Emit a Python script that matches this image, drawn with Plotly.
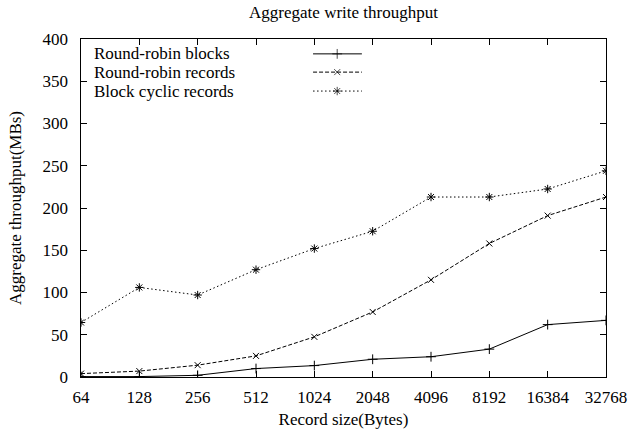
import math
import plotly.graph_objects as go

record_sizes = [64, 128, 256, 512, 1024, 2048, 4096, 8192, 16384, 32768]
tick_labels = [str(v) for v in record_sizes]
rr_blocks = [0.5, 0.5, 2, 10, 13.5, 21, 24, 33, 62, 67]
rr_records = [4, 7, 14, 25, 47.5, 77, 115, 158, 191, 213]
block_cyclic = [64.5, 106, 97, 127, 152, 172.5, 213, 213, 222.5, 244]
series_names = ["Round-robin blocks", "Round-robin records", "Block cyclic records"]

FONT = "Liberation Serif"
FS = 17
styles = [("solid", "cross-thin-open", 7), ("4px,2px", "x-thin-open", 6), ("1.5px,2.5px", "asterisk-open", 7)]
series = [rr_blocks, rr_records, block_cyclic]

fig = go.Figure()
for name, ys, (dash, sym, sz) in zip(series_names, series, styles):
    fig.add_trace(go.Scatter(
        x=record_sizes, y=ys, mode="lines+markers", name=name,
        line=dict(color="black", width=1, dash=dash),
        marker=dict(symbol=sym, size=sz, color="black", line=dict(width=1, color="black")),
        showlegend=False,
    ))

# gnuplot-style key: text on the left, sample on the right (hidden overlay axes 0..1)
legend_rows = [0.956, 0.902, 0.846]
for name, row, (dash, sym, sz) in zip(series_names, legend_rows, styles):
    fig.add_trace(go.Scatter(
        x=[0.442, 0.488, 0.535], y=[row, row, row], xaxis="x2", yaxis="y2",
        mode="lines+markers", showlegend=False, hoverinfo="skip",
        line=dict(color="black", width=1, dash=dash),
        marker=dict(symbol=sym, size=[0, sz, 0], color="black", line=dict(width=1, color="black")),
    ))
    fig.add_annotation(x=0.021, y=row, xref="x2", yref="y2", text=name,
                       showarrow=False, xanchor="left", yanchor="middle",
                       font=dict(family=FONT, size=FS, color="black"))

fig.update_layout(
    width=640, height=432,
    margin=dict(l=81, r=34, t=39, b=55, autoexpand=False),
    paper_bgcolor="white", plot_bgcolor="white",
    font=dict(family=FONT, size=FS, color="black"),
    title=dict(text="Aggregate write throughput", x=(81 + 606) / 2 / 640, xanchor="center",
               y=1 - 12.5 / 432, yanchor="middle",
               font=dict(family=FONT, size=FS, color="black")),
    xaxis=dict(
        type="log", range=[math.log10(record_sizes[0]), math.log10(record_sizes[-1])],
        tickvals=record_sizes, ticktext=tick_labels, automargin=False,
        ticks="inside", ticklen=6, tickcolor="black", showline=True, linecolor="black",
        linewidth=1, mirror="ticks", showgrid=False, zeroline=False,
        title=dict(text="Record size(Bytes)", standoff=6, font=dict(family=FONT, size=FS)),
        tickfont=dict(family=FONT, size=FS), ticklabelstandoff=5,
    ),
    yaxis=dict(
        range=[0, 400], dtick=50, tick0=0, automargin=False,
        ticks="inside", ticklen=6, tickcolor="black", showline=True, linecolor="black",
        linewidth=1, mirror="ticks", showgrid=False, zeroline=False,
        title=dict(text="Aggregate throughput(MBs)", standoff=16, font=dict(family=FONT, size=FS)),
        tickfont=dict(family=FONT, size=FS), ticksuffix="\u2002",
    ),
    xaxis2=dict(overlaying="x", range=[0, 1], visible=False, fixedrange=True),
    yaxis2=dict(overlaying="y", range=[0, 1], visible=False, fixedrange=True),
)

fig.write_html("out.html", config={"displayModeBar": False},
               post_script="document.body.style.margin='0';")
